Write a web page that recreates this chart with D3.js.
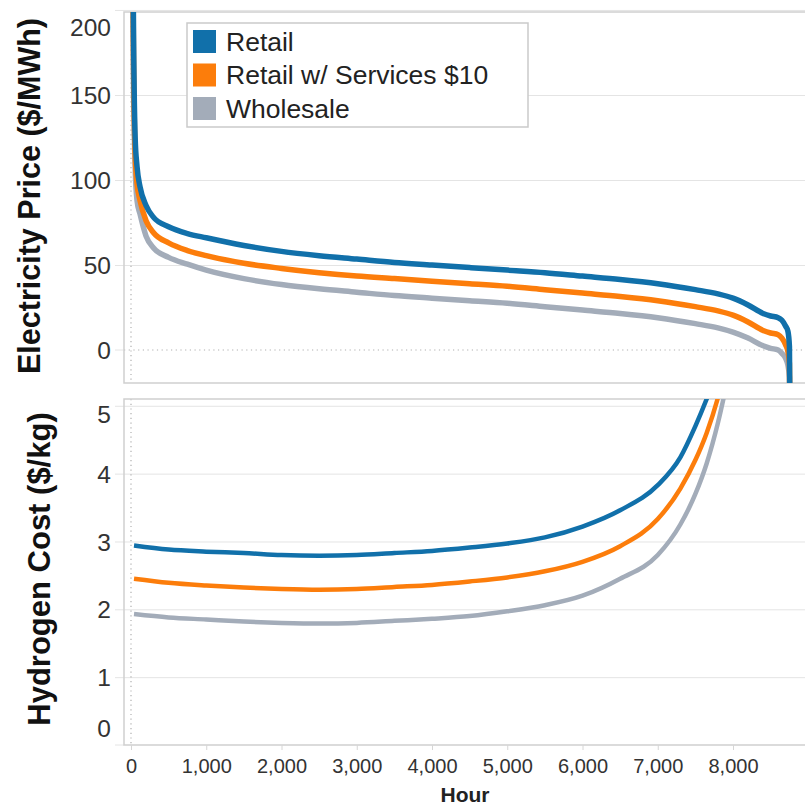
<!DOCTYPE html>
<html>
<head>
<meta charset="utf-8">
<script src="https://cdn.jsdelivr.net/npm/d3@7"></script>
<style>
  body { margin: 0; background: #fff; }
  svg { font-family: Arial, "Liberation Sans", sans-serif; }
</style>
</head>
<body>
<svg id="chart" width="805" height="807"></svg>
<script>
// Series names and colours (legend order)
const seriesNames = ['Retail', 'Retail w/ Services $10', 'Wholesale'];
const seriesColors = ['#1170aa', '#fc7d0b', '#a3acb9'];

// Top panel: electricity price duration curve ($/MWh) by hour
const priceHours = [0, 30, 55, 80, 120, 200, 300, 500, 750, 1000, 1500, 2000, 2500, 3000, 3500, 4000, 4500,
  5000, 5500, 6000, 6500, 7000, 7500, 7800, 8000, 8200, 8400, 8500, 8600, 8650, 8700, 8730, 8750, 8760];
const priceRetail = [600, 210, 125, 108, 96, 85, 78, 72.5, 68.5, 66, 61.5, 58, 55.5, 53.5, 51.5, 50, 48.5,
  47, 45.5, 43.5, 41.5, 39, 35.5, 33, 30.5, 26.5, 21.5, 20, 19, 17.5, 14, 11, 2, -60];
const priceServices = [550, 190, 115, 98, 88, 76, 69, 63, 58.5, 55.5, 51, 48, 45.5, 43.5, 42, 40.5, 39,
  37.5, 35.5, 33.5, 31.5, 29, 25.5, 23, 20.5, 16.5, 11.5, 10, 9, 7, 3, -1, -8, -60];
const priceWholesale = [500, 170, 108, 88, 80, 67, 60, 54.5, 50.5, 47, 42, 38.5, 36, 34, 32, 30.5, 29,
  27.5, 25.5, 23.5, 21.5, 19, 15.5, 13, 10.5, 7, 2.5, 1, 0, -2, -5, -9, -16, -60];

// Bottom panel: hydrogen cost ($/kg) by hour
const h2Hours = [40, 500, 1000, 1500, 2000, 2500, 3000, 3500, 4000, 4500, 5000, 5500, 6000, 6500, 7000,
  7300, 7500, 7650, 7800, 7950];
const h2Retail = [2.94, 2.88, 2.85, 2.83, 2.8, 2.79, 2.8, 2.83, 2.86, 2.91, 2.97, 3.06, 3.22, 3.46, 3.83,
  4.24, 4.7, 5.1, 5.55, 6.1];
const h2Services = [2.45, 2.39, 2.35, 2.32, 2.3, 2.29, 2.3, 2.33, 2.36, 2.41, 2.47, 2.56, 2.7, 2.93, 3.33,
  3.78, 4.2, 4.6, 5.12, 5.8];
const h2Wholesale = [1.93, 1.88, 1.85, 1.82, 1.8, 1.79, 1.8, 1.83, 1.86, 1.9, 1.97, 2.06, 2.2, 2.45, 2.8,
  3.25, 3.7, 4.15, 4.75, 5.5];

const hourTicks = [0, 1000, 2000, 3000, 4000, 5000, 6000, 7000, 8000];
const priceTicks = [0, 50, 100, 150, 200];
const h2Ticks = [0, 1, 2, 3, 4, 5];

const svg = d3.select('#chart');
const left = 124, right = 806;
const topPanel = { top: 12, bottom: 383 };
const botPanel = { top: 399, bottom: 745 };

const x = d3.scaleLinear().domain([-93, 8970]).range([left, right]);
const yPrice = d3.scaleLinear().domain([-19.4, 198.8]).range([topPanel.bottom, topPanel.top]);
const yH2 = d3.scaleLinear().domain([0, 5.1]).range([botPanel.bottom, botPanel.top]);

function drawPanel(panel, y, ticks, hours, series, id, width) {
  const g = svg.append('g');
  // gridlines + tick stubs
  const yAxis = d3.axisLeft(y).tickValues(ticks).tickSize(right - left + 9).tickPadding(4)
    .tickFormat(d3.format(','));
  const ag = g.append('g').attr('transform', `translate(${right},0)`).call(yAxis);
  ag.select('.domain').remove();
  ag.selectAll('.tick line').attr('stroke', '#e4e4e4').attr('stroke-width', 1)
    .attr('display', d => (d === 0 ? 'none' : null));
  ag.selectAll('.tick text')
    .attr('x', -(right - 111))
    .attr('fill', '#333').style('font-size', '24.5px')
    .attr('dy', '0.35em')
    .attr('y', d => Math.max(panel.top + 15, Math.min(panel.bottom - 17, y(d))) - y(d));
  // zero tick stub
  g.append('line').attr('x1', left - 9).attr('x2', left).attr('y1', y(0)).attr('y2', y(0))
    .attr('stroke', '#e4e4e4');
  // dotted zero lines
  if (y(0) < panel.bottom - 1) {
    g.append('line').attr('x1', left).attr('x2', right).attr('y1', y(0)).attr('y2', y(0))
      .attr('stroke', '#b0b0b0').attr('stroke-width', 1.2).attr('stroke-dasharray', '1.2,3.5');
  }
  g.append('line').attr('x1', x(0)).attr('x2', x(0)).attr('y1', panel.top).attr('y2', panel.bottom)
    .attr('stroke', '#b0b0b0').attr('stroke-width', 1.2).attr('stroke-dasharray', '1.2,3.5');

  // frame
  g.append('rect').attr('x', left).attr('y', panel.top)
    .attr('width', right - left).attr('height', panel.bottom - panel.top)
    .attr('fill', 'none').attr('stroke', '#cfcfcf').attr('stroke-width', 1.5);

  svg.append('clipPath').attr('id', id).append('rect')
    .attr('x', left).attr('y', panel.top).attr('width', right - left).attr('height', panel.bottom - panel.top);

  const line = d3.line().x((d, i) => x(hours[i])).y(d => y(d)).curve(d3.curveMonotoneX);
  const lg = g.append('g').attr('clip-path', `url(#${id})`);
  // draw wholesale first so retail sits on top
  [2, 1, 0].forEach(k => {
    lg.append('path').datum(series[k]).attr('d', line)
      .attr('fill', 'none').attr('stroke', seriesColors[k]).attr('stroke-width', width)
      .attr('stroke-linejoin', 'round');
  });
}

drawPanel(topPanel, yPrice, priceTicks, priceHours, [priceRetail, priceServices, priceWholesale], 'clipTop', 5.5);
drawPanel(botPanel, yH2, h2Ticks, h2Hours, [h2Retail, h2Services, h2Wholesale], 'clipBot', 4.5);

// x axis
const xAxis = d3.axisBottom(x).tickValues(hourTicks).tickSize(5).tickPadding(9).tickFormat(d3.format(','));
const xg = svg.append('g').attr('transform', `translate(0,${botPanel.bottom})`).call(xAxis);
xg.select('.domain').remove();
xg.selectAll('.tick line').attr('stroke', '#d6d6d6');
xg.selectAll('.tick text').attr('fill', '#333').style('font-size', '20px');

svg.append('text').attr('x', 465).attr('y', 802).attr('text-anchor', 'middle')
  .style('font-size', '21px').style('font-weight', 'bold').attr('fill', '#222').text('Hour');

// y titles
svg.append('text').attr('transform', 'translate(40,196) rotate(-90)').attr('text-anchor', 'middle')
  .style('font-size', '30.5px').style('font-weight', 'bold').attr('fill', '#111')
  .text('Electricity Price ($/MWh)');
svg.append('text').attr('transform', 'translate(50,569) rotate(-90)').attr('text-anchor', 'middle')
  .style('font-size', '31px').style('font-weight', 'bold').attr('fill', '#111')
  .text('Hydrogen Cost ($/kg)');

// legend
const legend = svg.append('g');
legend.append('rect').attr('x', 187).attr('y', 23).attr('width', 341).attr('height', 104)
  .attr('fill', '#fff').attr('stroke', '#cacaca').attr('stroke-width', 1.5);
seriesNames.forEach((name, i) => {
  const cy = 41.5 + i * 33.5;
  legend.append('rect').attr('x', 193).attr('y', cy - 11.5).attr('width', 23).attr('height', 23)
    .attr('fill', seriesColors[i]);
  legend.append('text').attr('x', 226).attr('y', cy).attr('dy', '0.35em')
    .style('font-size', '26.5px').attr('fill', '#222').text(name);
});
</script>
</body>
</html>
